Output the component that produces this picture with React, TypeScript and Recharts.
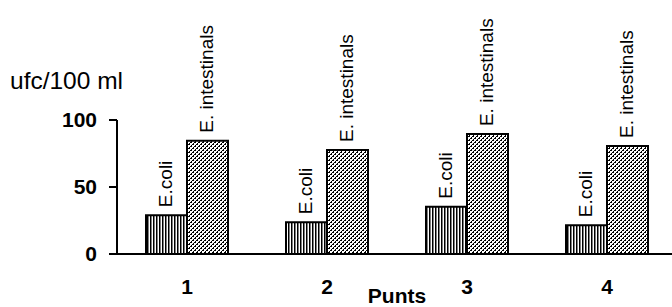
import React from 'react';
import { BarChart, Bar, XAxis, YAxis, LabelList, Label } from 'recharts';

const categories = ['1', '2', '3', '4'];
const ecoliValues = [29, 23.7, 35.3, 21.5];
const intestinalValues = [84.5, 77.6, 89.5, 80.6];
const yTicks = [0, 50, 100];
const seriesNames = { ecoli: 'E.coli', eint: 'E. intestinals' };
const xAxisTitle = 'Punts';
const yAxisTitle = 'ufc/100 ml';
const separatorTicks = [1, 2, 3];

const data = categories.map((c, i) => ({
  cat: c,
  ecoli: ecoliValues[i],
  eint: intestinalValues[i],
}));

const FONT = '"Liberation Sans", Arial, Helvetica, sans-serif';

const makeBarLabel = (name: string) => (props: any) => {
  const { x, y, width } = props;
  const cx = Number(x) + Number(width) / 2 - 1;
  const cy = Number(y) - 8;
  return (
    <text
      x={cx}
      y={cy}
      transform={`rotate(-90, ${cx}, ${cy})`}
      textAnchor="start"
      dominantBaseline="central"
      fontFamily={FONT}
      fontSize={19}
      fill="#000"
    >
      {name}
    </text>
  );
};

const YTitle = (props: any) => {
  const vb = props.viewBox || {};
  return (
    <text x={Number(vb.x) - 7} y={Number(vb.y) - 31} fontFamily={FONT} fontSize={24.5} fill="#000">
      {yAxisTitle}
    </text>
  );
};

export default function App() {
  return (
    <div style={{ position: 'fixed', left: 0, top: 0, width: 672, height: 307, overflow: 'hidden', background: '#fff' }}>
      <svg width={0} height={0} style={{ position: 'absolute' }}>
        <defs>
          <pattern id="vstripes" patternUnits="userSpaceOnUse" width={3} height={4}>
            <rect x={0} y={0} width={3} height={4} fill="#fff" />
            <rect x={0} y={0} width={1.5} height={4} fill="#000" />
          </pattern>
          <pattern id="stipple" patternUnits="userSpaceOnUse" width={4} height={4}>
            <rect x={0} y={0} width={4} height={4} fill="#fff" />
            <rect x={0} y={0} width={2} height={1} fill="#000" />
            <rect x={3} y={1} width={1} height={1} fill="#000" />
            <rect x={2} y={2} width={2} height={1} fill="#000" />
            <rect x={1} y={3} width={1} height={1} fill="#000" />
          </pattern>
        </defs>
      </svg>
      <BarChart
        width={690}
        height={307}
        data={data}
        margin={{ top: 120, right: 13, bottom: 23, left: 17 }}
        barGap={0}
        barSize={41}
      >
        <XAxis
          dataKey="cat"
          height={30}
          axisLine={{ stroke: '#000', strokeWidth: 2 }}
          tickLine={false}
          tickSize={0}
          tickMargin={25}
          tick={{ fill: '#000', fontSize: 21, fontWeight: 'bold', fontFamily: FONT }}
          interval={0}
        >
          <Label
            value={xAxisTitle}
            position="bottom"
            offset={4}
            style={{ fill: '#000', fontSize: 21, fontWeight: 'bold', fontFamily: FONT }}
          />
        </XAxis>
        <XAxis
          xAxisId="sep"
          type="number"
          domain={[0, 4]}
          ticks={separatorTicks}
          mirror
          height={0}
          axisLine={false}
          tick={false}
          tickSize={7}
          tickLine={{ stroke: '#000', strokeWidth: 2 }}
        />
        <YAxis
          width={100}
          domain={[0, 100]}
          ticks={yTicks}
          axisLine={{ stroke: '#000', strokeWidth: 2 }}
          tickLine={{ stroke: '#000', strokeWidth: 2 }}
          tickSize={8}
          tickMargin={12}
          tick={{ fill: '#000', fontSize: 21, fontWeight: 'bold', fontFamily: FONT }}
        >
          <Label content={<YTitle />} />
        </YAxis>
        <Bar dataKey="ecoli" fill="url(#vstripes)" stroke="#000" strokeWidth={2} isAnimationActive={false}>
          <LabelList dataKey="ecoli" content={makeBarLabel(seriesNames.ecoli)} />
        </Bar>
        <Bar dataKey="eint" fill="url(#stipple)" stroke="#000" strokeWidth={2} isAnimationActive={false}>
          <LabelList dataKey="eint" content={makeBarLabel(seriesNames.eint)} />
        </Bar>
      </BarChart>
    </div>
  );
}
